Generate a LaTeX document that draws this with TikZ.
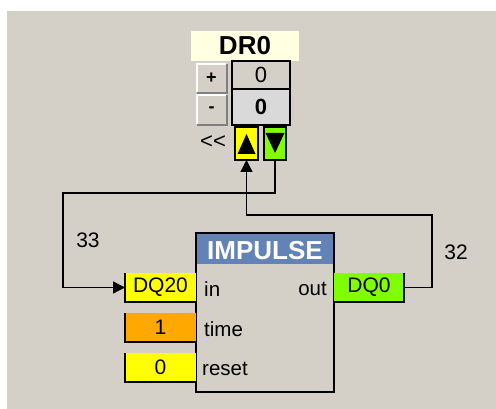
\documentclass[tikz,border=0pt]{standalone}
\usepackage{fontspec}
\setmainfont{Liberation Sans}
\usetikzlibrary{arrows.meta}
\definecolor{bgcol}{HTML}{D4D0C8}
\definecolor{tipcol}{HTML}{FFFFE1}
\definecolor{valcol}{HTML}{D9D9D9}
\definecolor{ycol}{HTML}{FFFF00}
\definecolor{ocol}{HTML}{FFA800}
\definecolor{gcol}{HTML}{80FF00}
\definecolor{hcol}{HTML}{6282B8}
\definecolor{shcol}{HTML}{808080}
\tikzset{
  box/.style={rectangle, inner sep=0pt, outer sep=0pt},
  inbox/.style={box, minimum width=71pt, minimum height=29pt, font=\fontsize{21}{21}\selectfont},
  pin/.style={font=\fontsize{20.5}{20.5}\selectfont, inner sep=0pt},
  wire/.style={line width=1.3pt, black},
  arr/.style={wire, -{Triangle[length=12pt,width=12pt]}},
  btn/.style={box, fill=bgcol, minimum width=29pt, minimum height=28pt, font=\fontsize{18}{18}\selectfont\bfseries},
  lbl/.style={font=\fontsize{21}{21}\selectfont, inner sep=0pt},
}
\begin{document}
\begin{tikzpicture}[x=1pt,y=-1pt]
\useasboundingbox (0,0) rectangle (496,409);
\fill[white] (0,0) rectangle (496,409);
\fill[bgcol] (7,11) rectangle (496,409);

% DR0 display
\node[box, fill=tipcol, minimum width=108pt, minimum height=30pt, font=\fontsize{26}{26}\selectfont\bfseries] (title) at (245,46) {DR0};
\node[box, fill=bgcol, draw=black, line width=1.3pt, minimum width=58pt, minimum height=28pt, font=\fontsize{22}{22}\selectfont] (val1) at (261,75) {0};
\node[box, fill=valcol, draw=black, line width=1.3pt, minimum width=58pt, minimum height=36pt, font=\fontsize{22}{22}\selectfont\bfseries] (val2) at (261,107) {0};

\node[btn] (plus) at (211.5,78) {+};
\node[btn, minimum height=29pt] (minus) at (211.5,109.5) {-};
\foreach \b in {plus,minus}{
  \draw[white, line width=1.5pt] (\b.south west) -- (\b.north west) -- (\b.north east);
  \draw[shcol, line width=1.5pt] ([yshift=-1pt]\b.south west) -- ([yshift=-1pt,xshift=1pt]\b.south east) -- ([xshift=1pt]\b.north east);
}

\node[font=\fontsize{22}{22}\selectfont, inner sep=0pt] (ll) at (213,142) {<\kern0pt<};

\node[box, fill=ycol, draw=black, line width=1.3pt, minimum width=23pt, minimum height=33pt] (up) at (246.5,143.5) {};
\node[box, fill=gcol, draw=black, line width=1.3pt, minimum width=22pt, minimum height=33pt] (down) at (275,143.5) {};
\fill[black] (246.5,134) -- (255.5,154) -- (237.5,154) -- cycle;
\fill[black] (265.5,133) -- (284.5,133) -- (275,153) -- cycle;

% IMPULSE block
\node[box, fill=bgcol, draw=black, line width=1.5pt, minimum width=138pt, minimum height=159pt] (blk) at (265,312.5) {};
\fill[hcol] (197,234) rectangle (333,264);
\node[text=white, font=\fontsize{26}{26}\selectfont\bfseries, inner sep=0pt] (hdr) at (265,251) {IMPULSE};

\node[pin, anchor=west] (pin) at (204,289) {in};
\node[pin, anchor=east] (pout) at (327,289) {out};
\node[pin, anchor=west] (ptime) at (204,329) {time};
\node[pin, anchor=west] (preset) at (202,369) {reset};

% input / output boxes
\node[inbox, fill=ycol] (dq20) at (160.5,287.5) {DQ20};
\node[inbox, fill=ocol] (one) at (160.5,327.5) {1};
\node[inbox, fill=ycol] (zero) at (160.5,367.5) {0};
\node[inbox, fill=gcol, minimum width=70pt] (dq0) at (369,287.5) {DQ0};
\foreach \n in {dq20,one,zero}{
  \draw[black, line width=1.3pt] (\n.north west) -- (\n.south west) -- (\n.south east);
}
\draw[black, line width=1.3pt] (dq0.south west) -- (dq0.south east) -- (dq0.north east);

% connectors
\coordinate (a1) at (275,193);
\coordinate (a2) at (63,193);
\draw[arr] (down.south) -- (a1) -- (a2) |- (dq20.west);
\coordinate (b1) at (432,287.5);
\coordinate (b2) at (432,215);
\coordinate (b3) at (246.5,215);
\draw[arr] (dq0.east) -- (b1) -- (b2) -- (b3) -- (up.south);

\node[lbl] (n33) at (88,240) {33};
\node[lbl] (n32) at (456,252) {32};
\end{tikzpicture}
\end{document}
